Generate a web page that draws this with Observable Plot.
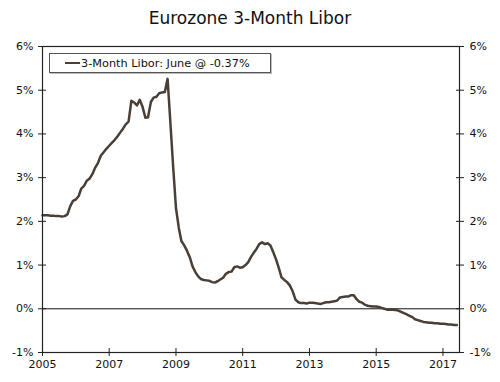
<!DOCTYPE html>
<html>
<head>
<meta charset="utf-8">
<script src="https://cdn.jsdelivr.net/npm/d3@7"></script>
<script src="https://cdn.jsdelivr.net/npm/@observablehq/plot@0.6"></script>
<style>
  html, body { margin: 0; padding: 0; background: #fff; }
  #wrap { position: relative; width: 500px; height: 382px; font-family: "DejaVu Sans", Verdana, sans-serif; }
  #title { height: 36px; line-height: 36px; text-align: center; font-size: 17px; color: #111; }
  #legend { position: absolute; left: 49px; top: 53px; width: 220px; height: 18px; border: 1px solid #555;
            box-shadow: 1px 1px 0 #bbb; background: #fff; font-size: 11.3px; color: #111; display: flex; align-items: center; }
  #legend .swatch { display: inline-block; width: 15px; height: 0; border-top: 2.5px solid #4a3f36; margin-left: 15px; }
  #legend .label { margin-left: 1px; }
</style>
</head>
<body>
<div id="wrap">
  <div id="title">Eurozone 3-Month Libor</div>
  <div id="chart"></div>
  <div id="legend"><span class="swatch"></span><span class="label">3-Month Libor: June @ -0.37%</span></div>
</div>
<script>
// Monthly series, Jan 2005 .. Jun 2017 (percent)
const startMonth = "2005-01-01";
const libor = [
  // 2005
  2.14, 2.14, 2.14, 2.13, 2.13, 2.12, 2.12, 2.11, 2.12, 2.16, 2.35, 2.47,
  // 2006
  2.50, 2.58, 2.75, 2.81, 2.93, 2.98, 3.08, 3.23, 3.34, 3.50, 3.58, 3.66,
  // 2007
  3.73, 3.80, 3.86, 3.94, 4.03, 4.12, 4.22, 4.28, 4.76, 4.72, 4.65, 4.78,
  // 2008
  4.62, 4.37, 4.38, 4.73, 4.83, 4.85, 4.93, 4.95, 4.96, 5.26, 4.25, 3.25,
  // 2009
  2.30, 1.85, 1.55, 1.45, 1.33, 1.18, 0.97, 0.84, 0.74, 0.68, 0.66, 0.65,
  // 2010
  0.64, 0.61, 0.60, 0.63, 0.67, 0.71, 0.80, 0.84, 0.85, 0.95, 0.97, 0.94,
  // 2011
  0.95, 1.00, 1.06, 1.18, 1.28, 1.37, 1.48, 1.52, 1.48, 1.50, 1.45, 1.30,
  // 2012
  1.13, 0.93, 0.72, 0.66, 0.61, 0.53, 0.40, 0.21, 0.15, 0.13, 0.13, 0.12,
  // 2013
  0.14, 0.14, 0.13, 0.12, 0.11, 0.13, 0.15, 0.15, 0.16, 0.17, 0.19, 0.26,
  // 2014
  0.27, 0.28, 0.28, 0.31, 0.31, 0.22, 0.16, 0.14, 0.09, 0.07, 0.06, 0.05,
  // 2015
  0.05, 0.04, 0.02, 0.00, -0.02, -0.02, -0.02, -0.03, -0.04, -0.07, -0.10, -0.13,
  // 2016
  -0.16, -0.19, -0.24, -0.26, -0.28, -0.30, -0.31, -0.32, -0.32, -0.33, -0.33, -0.34,
  // 2017
  -0.34, -0.35, -0.36, -0.36, -0.37, -0.37
];
const yTicks = [-1, 0, 1, 2, 3, 4, 5, 6];
const xTickYears = [2005, 2007, 2009, 2011, 2013, 2015, 2017];
const xDomain = ["2005-01-01", "2017-07-01"];

const start = new Date(startMonth);
const data = libor.map((v, i) => ({date: d3.utcMonth.offset(start, i), value: v}));
const xTicks = xTickYears.map(y => new Date(Date.UTC(y, 0, 1)));
const fmtPct = d => `${d}%`;
const lineColor = "#4a3f36";

const chart = Plot.plot({
  width: 500,
  height: 346,
  marginTop: 10,
  marginBottom: 30,
  marginLeft: 42,
  marginRight: 41,
  style: {fontFamily: "'DejaVu Sans', Verdana, sans-serif", fontSize: "11px", color: "#111", background: "#fff"},
  x: {type: "utc", domain: xDomain.map(d => new Date(d))},
  y: {domain: [-1, 6]},
  marks: [
    Plot.ruleY([0], {stroke: "#111", strokeWidth: 1}),
    Plot.line(data, {x: "date", y: "value", stroke: lineColor, strokeWidth: 2.5, strokeLinejoin: "round"}),
    Plot.frame({stroke: "#222", strokeWidth: 1.2}),
    Plot.axisY(yTicks, {anchor: "left", tickSize: 8, dx: 4, tickPadding: 5, tickFormat: fmtPct, stroke: "#222", label: null}),
    Plot.axisY(yTicks, {anchor: "right", tickSize: 8, dx: -4, tickPadding: 6, tickFormat: fmtPct, stroke: "#222", label: null}),
    Plot.axisX(xTicks, {anchor: "bottom", tickSize: 8, dy: -4, tickPadding: 4, tickFormat: d3.utcFormat("%Y"), stroke: "#222", label: null})
  ]
});
document.getElementById("chart").appendChild(chart);
</script>
</body>
</html>
